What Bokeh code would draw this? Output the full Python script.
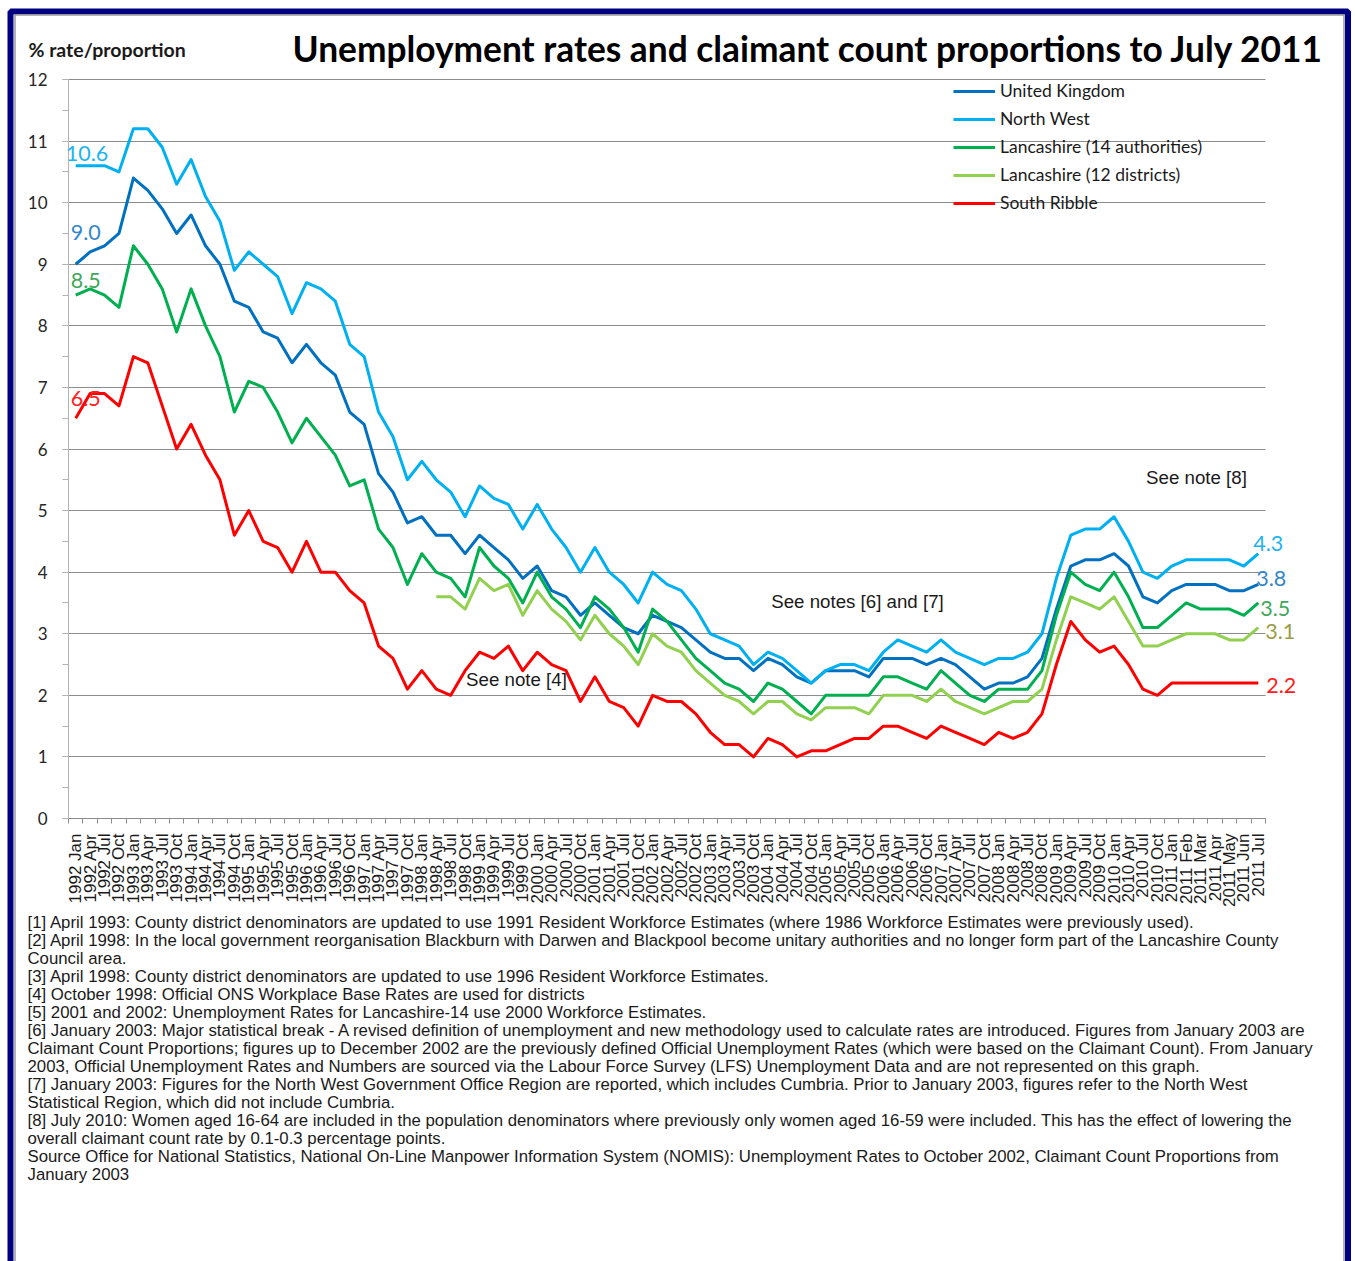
from math import pi

import numpy as np
from bokeh.plotting import figure
from bokeh.models import (Range1d, FixedTicker, SingleIntervalTicker, Label,
                          BoxAnnotation, Legend, LegendItem)
from bokeh.embed import file_html
from bokeh.resources import INLINE

periods = [
    "1992 Jan", "1992 Apr", "1992 Jul", "1992 Oct",
    "1993 Jan", "1993 Apr", "1993 Jul", "1993 Oct",
    "1994 Jan", "1994 Apr", "1994 Jul", "1994 Oct",
    "1995 Jan", "1995 Apr", "1995 Jul", "1995 Oct",
    "1996 Jan", "1996 Apr", "1996 Jul", "1996 Oct",
    "1997 Jan", "1997 Apr", "1997 Jul", "1997 Oct",
    "1998 Jan", "1998 Apr", "1998 Jul", "1998 Oct",
    "1999 Jan", "1999 Apr", "1999 Jul", "1999 Oct",
    "2000 Jan", "2000 Apr", "2000 Jul", "2000 Oct",
    "2001 Jan", "2001 Apr", "2001 Jul", "2001 Oct",
    "2002 Jan", "2002 Apr", "2002 Jul", "2002 Oct",
    "2003 Jan", "2003 Apr", "2003 Jul", "2003 Oct",
    "2004 Jan", "2004 Apr", "2004 Jul", "2004 Oct",
    "2005 Jan", "2005 Apr", "2005 Jul", "2005 Oct",
    "2006 Jan", "2006 Apr", "2006 Jul", "2006 Oct",
    "2007 Jan", "2007 Apr", "2007 Jul", "2007 Oct",
    "2008 Jan", "2008 Apr", "2008 Jul", "2008 Oct",
    "2009 Jan", "2009 Apr", "2009 Jul", "2009 Oct",
    "2010 Jan", "2010 Apr", "2010 Jul", "2010 Oct",
    "2011 Jan", "2011 Feb", "2011 Mar", "2011 Apr", "2011 May", "2011 Jun", "2011 Jul",
]

united_kingdom = [
    9.0, 9.2, 9.3, 9.5, 10.4, 10.2, 9.9, 9.5, 9.8, 9.3, 9.0, 8.4,
    8.3, 7.9, 7.8, 7.4, 7.7, 7.4, 7.2, 6.6, 6.4, 5.6, 5.3, 4.8,
    4.9, 4.6, 4.6, 4.3, 4.6, 4.4, 4.2, 3.9, 4.1, 3.7, 3.6, 3.3,
    3.5, 3.3, 3.1, 3.0, 3.3, 3.2, 3.1, 2.9, 2.7, 2.6, 2.6, 2.4,
    2.6, 2.5, 2.3, 2.2, 2.4, 2.4, 2.4, 2.3, 2.6, 2.6, 2.6, 2.5,
    2.6, 2.5, 2.3, 2.1, 2.2, 2.2, 2.3, 2.6, 3.4, 4.1, 4.2, 4.2,
    4.3, 4.1, 3.6, 3.5, 3.7, 3.8, 3.8, 3.8, 3.7, 3.7, 3.8,
]
north_west = [
    10.6, 10.6, 10.6, 10.5, 11.2, 11.2, 10.9, 10.3, 10.7, 10.1, 9.7, 8.9,
    9.2, 9.0, 8.8, 8.2, 8.7, 8.6, 8.4, 7.7, 7.5, 6.6, 6.2, 5.5,
    5.8, 5.5, 5.3, 4.9, 5.4, 5.2, 5.1, 4.7, 5.1, 4.7, 4.4, 4.0,
    4.4, 4.0, 3.8, 3.5, 4.0, 3.8, 3.7, 3.4, 3.0, 2.9, 2.8, 2.5,
    2.7, 2.6, 2.4, 2.2, 2.4, 2.5, 2.5, 2.4, 2.7, 2.9, 2.8, 2.7,
    2.9, 2.7, 2.6, 2.5, 2.6, 2.6, 2.7, 3.0, 3.9, 4.6, 4.7, 4.7,
    4.9, 4.5, 4.0, 3.9, 4.1, 4.2, 4.2, 4.2, 4.2, 4.1, 4.3,
]
lancashire_14 = [
    8.5, 8.6, 8.5, 8.3, 9.3, 9.0, 8.6, 7.9, 8.6, 8.0, 7.5, 6.6,
    7.1, 7.0, 6.6, 6.1, 6.5, 6.2, 5.9, 5.4, 5.5, 4.7, 4.4, 3.8,
    4.3, 4.0, 3.9, 3.6, 4.4, 4.1, 3.9, 3.5, 4.0, 3.6, 3.4, 3.1,
    3.6, 3.4, 3.1, 2.7, 3.4, 3.2, 2.9, 2.6, 2.4, 2.2, 2.1, 1.9,
    2.2, 2.1, 1.9, 1.7, 2.0, 2.0, 2.0, 2.0, 2.3, 2.3, 2.2, 2.1,
    2.4, 2.2, 2.0, 1.9, 2.1, 2.1, 2.1, 2.4, 3.3, 4.0, 3.8, 3.7,
    4.0, 3.6, 3.1, 3.1, 3.3, 3.5, 3.4, 3.4, 3.4, 3.3, 3.5,
]
# 12-district series only starts in April 1998
lancashire_12 = [
    None, None, None, None, None, None, None, None, None, None, None, None,
    None, None, None, None, None, None, None, None, None, None, None, None,
    None, 3.6, 3.6, 3.4, 3.9, 3.7, 3.8, 3.3, 3.7, 3.4, 3.2, 2.9,
    3.3, 3.0, 2.8, 2.5, 3.0, 2.8, 2.7, 2.4, 2.2, 2.0, 1.9, 1.7,
    1.9, 1.9, 1.7, 1.6, 1.8, 1.8, 1.8, 1.7, 2.0, 2.0, 2.0, 1.9,
    2.1, 1.9, 1.8, 1.7, 1.8, 1.9, 1.9, 2.1, 2.9, 3.6, 3.5, 3.4,
    3.6, 3.2, 2.8, 2.8, 2.9, 3.0, 3.0, 3.0, 2.9, 2.9, 3.1,
]
south_ribble = [
    6.5, 6.9, 6.9, 6.7, 7.5, 7.4, 6.7, 6.0, 6.4, 5.9, 5.5, 4.6,
    5.0, 4.5, 4.4, 4.0, 4.5, 4.0, 4.0, 3.7, 3.5, 2.8, 2.6, 2.1,
    2.4, 2.1, 2.0, 2.4, 2.7, 2.6, 2.8, 2.4, 2.7, 2.5, 2.4, 1.9,
    2.3, 1.9, 1.8, 1.5, 2.0, 1.9, 1.9, 1.7, 1.4, 1.2, 1.2, 1.0,
    1.3, 1.2, 1.0, 1.1, 1.1, 1.2, 1.3, 1.3, 1.5, 1.5, 1.4, 1.3,
    1.5, 1.4, 1.3, 1.2, 1.4, 1.3, 1.4, 1.7, 2.5, 3.2, 2.9, 2.7,
    2.8, 2.5, 2.1, 2.0, 2.2, 2.2, 2.2, 2.2, 2.2, 2.2, 2.2,
]

footnotes = [
    "[1] April 1993: County district denominators are updated to use 1991 Resident Workforce Estimates (where 1986 Workforce Estimates were previously used).",
    "[2] April 1998: In the local government reorganisation Blackburn with Darwen and Blackpool become unitary authorities and no longer form part of the Lancashire County",
    "Council area.",
    "[3] April 1998: County district denominators are updated to use 1996 Resident Workforce Estimates.",
    "[4] October 1998: Official ONS Workplace Base Rates are used for districts",
    "[5] 2001 and 2002: Unemployment Rates for Lancashire-14 use 2000 Workforce Estimates.",
    "[6] January 2003: Major statistical break - A revised definition of unemployment and new methodology used to calculate rates are introduced. Figures from January 2003 are",
    "Claimant Count Proportions; figures up to December 2002 are the previously defined Official Unemployment Rates (which were based on the Claimant Count). From January",
    "2003, Official Unemployment Rates and Numbers are sourced via the Labour Force Survey (LFS) Unemployment Data and are not represented on this graph.",
    "[7] January 2003: Figures for the North West Government Office Region are reported, which includes Cumbria.  Prior to January 2003, figures refer to the North West",
    "Statistical Region, which did not include Cumbria.",
    "[8] July 2010: Women aged 16-64 are included in the population denominators where previously only women aged 16-59 were included. This has the effect of lowering the",
    "overall claimant count rate by 0.1-0.3 percentage points.",
    "Source Office for National Statistics, National On-Line Manpower Information System (NOMIS): Unemployment Rates to October 2002, Claimant Count Proportions from",
    "January 2003",
]

W, H = 1355, 1261
# plot area of the original chart, in page pixels
AREA_L, AREA_R, AREA_T, AREA_B = 68, 1265, 79, 818

x = np.arange(len(periods))
n = len(periods)
x_step = (AREA_R - AREA_L) / n
y_step = (AREA_B - AREA_T) / 12

# the frame covers the whole canvas so that notes and titles are not clipped;
# the axes are pinned to the chart area with fixed_location
p = figure(width=W, height=H, output_backend="svg", toolbar_location=None,
           x_range=Range1d(-0.5 - AREA_L / x_step, n - 0.5 + (W - AREA_R) / x_step),
           y_range=Range1d(-(H - AREA_B) / y_step, 12 + AREA_T / y_step),
           min_border=0, outline_line_color=None,
           background_fill_color="white", border_fill_color="white")
p.title.visible = False

yticks = SingleIntervalTicker(interval=1, num_minor_ticks=2)
p.yaxis.ticker = yticks
p.yaxis.fixed_location = -0.5
p.yaxis.bounds = (0, 12)
p.yaxis.axis_line_color = "#b3b3b3"
p.yaxis.major_tick_line_color = "#b3b3b3"
p.yaxis.minor_tick_line_color = "#b3b3b3"
p.yaxis.major_tick_in = 0
p.yaxis.major_tick_out = 6
p.yaxis.minor_tick_in = 0
p.yaxis.minor_tick_out = 6
p.yaxis.major_label_standoff = 15
p.yaxis.major_label_text_font = "Lato"
p.yaxis.major_label_text_font_size = "17px"
p.yaxis.major_label_text_color = "#262626"

p.xgrid.visible = False
grid = p.ygrid[0]
grid.ticker = yticks
grid.grid_line_color = "#8c8c8c"
grid.bounds = (0, 12)
if "cross_bounds" in grid.properties():
    grid.cross_bounds = (-0.5, n - 0.5)
else:
    grid.visible = False
    levels = list(range(0, 13))
    p.segment([-0.5] * 13, levels, [n - 0.5] * 13, levels,
              line_color="#8c8c8c", line_width=1, level="underlay")

# category axis: labels at centres, small ticks between categories
p.xaxis.ticker = FixedTicker(ticks=list(x), minor_ticks=list(x - 0.5) + [n - 0.5])
p.xaxis.fixed_location = 0
p.xaxis.bounds = (-0.5, n - 0.5)
p.xaxis.major_label_overrides = {int(i): s for i, s in zip(x, periods)}
p.xaxis.major_label_orientation = pi / 2
p.xaxis.major_tick_in = 0
p.xaxis.major_tick_out = 0
p.xaxis.minor_tick_in = 0
p.xaxis.minor_tick_out = 5
p.xaxis.axis_line_color = "#8c8c8c"
p.xaxis.minor_tick_line_color = "#8c8c8c"
p.xaxis.major_label_standoff = 10
p.xaxis.major_label_text_font = "Liberation Sans"
p.xaxis.major_label_text_font_size = "17px"
p.xaxis.major_label_text_color = "#1a1a1a"

series = [
    ("United Kingdom", united_kingdom, "#0070C0"),
    ("North West", north_west, "#00B0F0"),
    ("Lancashire (14 authorities)", lancashire_14, "#00B050"),
    ("Lancashire (12 districts)", lancashire_12, "#92D050"),
    ("South Ribble", south_ribble, "#FF0000"),
]
items = []
for name, vals, col in series:
    r = p.line(x, np.array(vals, dtype=float), line_color=col, line_width=3,
               line_join="round")
    items.append(LegendItem(label=name, renderers=[r]))

legend = Legend(items=items, location=(953, H - 213), border_line_alpha=0,
                background_fill_alpha=0, padding=0, margin=0, spacing=7,
                glyph_width=42, glyph_height=20, label_height=20,
                label_standoff=5, label_text_font="Lato",
                label_text_font_size="17.5px", label_text_color="#1a1a1a")
p.add_layout(legend)

# value labels at the start and end of the lines
first = [(north_west, "#1DB4F0", -10, 12), (united_kingdom, "#3387C8", -5, 32),
         (lancashire_14, "#40A85A", -5, 15), (south_ribble, "#FF2020", -5, 20)]
for vals, col, dx, dy in first:
    p.add_layout(Label(x=x[0], y=vals[0], text=f"{vals[0]:.1f}", x_offset=dx,
                       y_offset=dy, text_baseline="middle", text_align="left",
                       text_font="Lato", text_font_size="21.5px", text_color=col))
last = [(north_west, "#1DB4F0", -5, 10), (united_kingdom, "#3387C8", -2, 6),
        (lancashire_14, "#40A85A", 2, -6), (lancashire_12, "#9C9C48", 7, -4),
        (south_ribble, "#FF2020", 8, -2)]
for vals, col, dx, dy in last:
    p.add_layout(Label(x=x[-1], y=vals[-1], text=f"{vals[-1]:.1f}", x_offset=dx,
                       y_offset=dy, text_baseline="middle", text_align="left",
                       text_font="Lato", text_font_size="21.5px", text_color=col))


def note(text, px, py, size, font="Liberation Sans", style="normal",
         align="left", color="#1a1a1a"):
    # px, py: page pixels from the top left corner
    p.add_layout(Label(x=px, y=H - py, x_units="screen", y_units="screen",
                       text=text, text_font=font, text_font_size=size,
                       text_font_style=style, text_align=align,
                       text_baseline="middle", text_color=color))


note("Unemployment rates and claimant count proportions to July 2011",
     292, 48, "35.3px", font="Lato", style="bold", color="black")
note("% rate/proportion", 28, 49, "19.5px", font="Lato", style="bold")
note("See note [4]", 516, 679, "18.7px", align="center")
note("See notes [6] and [7]", 857, 601, "18.7px", align="center")
note("See note [8]", 1196, 477, "18.7px", align="center")

for i, line in enumerate(footnotes):
    note(line, 27, 922 + 18 * i, "16.8px")

# window frame
p.add_layout(BoxAnnotation(left=10, right=1347.5, top=H - 11, bottom=-20,
                           left_units="screen", right_units="screen",
                           top_units="screen", bottom_units="screen",
                           fill_color=None, line_color="#000080",
                           line_alpha=1, line_width=6))
p.add_layout(BoxAnnotation(left=14.5, right=1343.5, top=H - 14.5, bottom=-20,
                           left_units="screen", right_units="screen",
                           top_units="screen", bottom_units="screen",
                           fill_color=None, line_color="#9a9a9a",
                           line_alpha=1, line_width=1.5))

open("out.html", "w").write(file_html(p, INLINE))
